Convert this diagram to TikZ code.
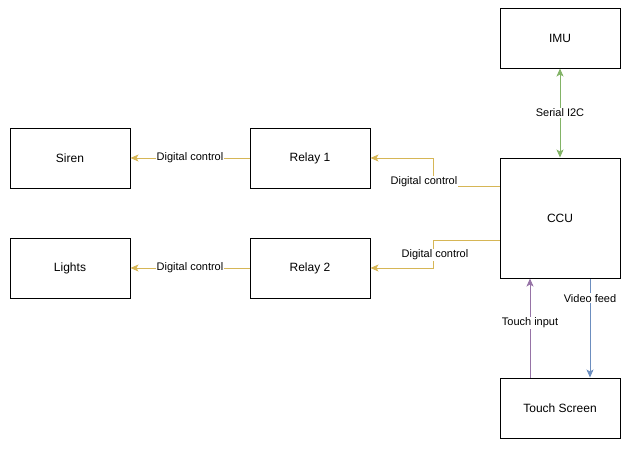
\documentclass[tikz,border=0pt]{standalone}
\usepackage{fontspec}
\setmainfont{Liberation Sans}
\usetikzlibrary{arrows.meta}
\definecolor{ctrlcol}{HTML}{D6B656}
\definecolor{buscol}{HTML}{82B366}
\definecolor{inpcol}{HTML}{9673A6}
\definecolor{vidcol}{HTML}{6C8EBF}
\begin{document}
\begin{tikzpicture}[x=1pt,y=-1pt,
	blk/.style={draw,line width=1pt,minimum width=120pt,minimum height=60pt,inner sep=0pt,font=\fontsize{12}{14}\selectfont},
	lbl/.style={fill=white,text=black,inner sep=1pt,font=\fontsize{11}{13}\selectfont},
	wire/.style={line width=0.9pt},
	>={Stealth[length=8pt,width=7pt,inset=2pt]}]
		\useasboundingbox (0,0) rectangle (631,448);
		
		\node[blk] (imu) at (560,38) {IMU};
		\node[blk] (siren) at (70,158) {Siren};
		\node[blk] (relayA) at (310,158) {Relay 1};
		\node[blk,minimum height=120pt] (ccu) at (560,218) {CCU};
		\node[blk] (lights) at (70,268) {Lights};
		\node[blk] (relayB) at (310,268) {Relay 2};
		\node[blk] (touch) at (560,408) {Touch Screen};
		
		\draw[wire,<->,buscol] (imu) -- node[lbl] {Serial I2C} (ccu);
		
		\draw[wire,->,ctrlcol] ([yshift=32pt]ccu.west) -- ++(-66,0) |- (relayA);
		\node[lbl] (dcA) at (424,182) {Digital control};
		\draw[wire,->,ctrlcol] ([yshift=-22pt]ccu.west) -- ++(-66,0) |- (relayB);
		\node[lbl] (dcB) at (435,255) {Digital control};
		
		\draw[wire,->,ctrlcol] (relayA) -- node[lbl] {Digital control} (siren);
		\draw[wire,->,ctrlcol] (relayB) -- node[lbl] {Digital control} (lights);
		
		\draw[wire,->,inpcol] ([xshift=-30pt]touch.north) -- node[lbl,pos=.55] {Touch input} ([xshift=-30pt]ccu.south);
		\draw[wire,->,vidcol] ([xshift=30pt]ccu.south) -- node[lbl,pos=.2] {Video feed} ([xshift=30pt]touch.north);
\end{tikzpicture}
\end{document}
